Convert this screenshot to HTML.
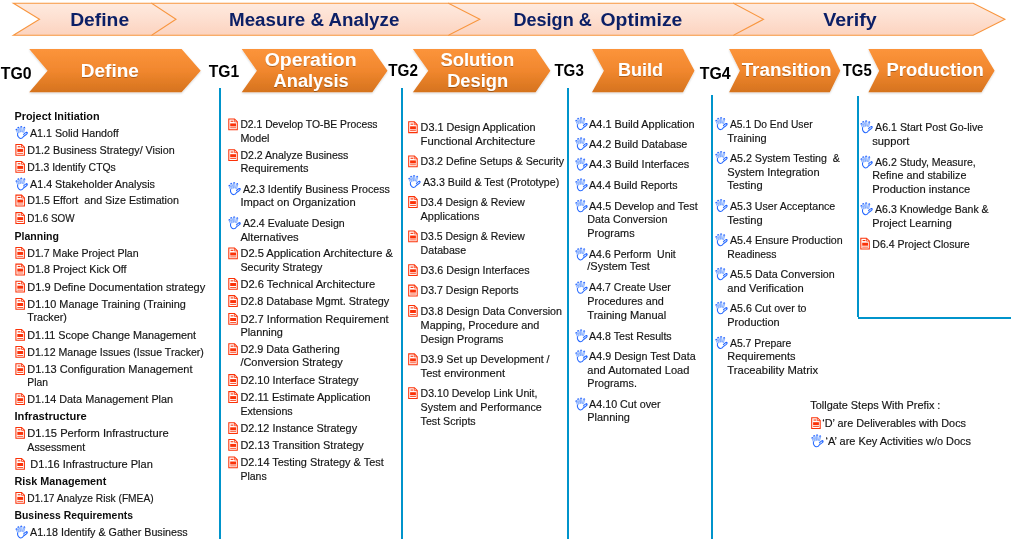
<!DOCTYPE html>
<html><head><meta charset="utf-8"><title>Tollgate process</title>
<style>
html,body{margin:0;padding:0;background:#fff;}
body{width:1011px;height:539px;overflow:hidden;font-family:"Liberation Sans",sans-serif;}
svg{display:block;font-family:"Liberation Sans",sans-serif;}
.t{font-size:10.5px;fill:#141414;stroke:#141414;stroke-width:0.16px;}
.b{font-size:10.5px;fill:#0c0c0c;font-weight:bold;}
.tg{font-size:16.3px;font-weight:bold;fill:#000;}
.hd{font-size:18.8px;font-weight:bold;fill:#0b1f66;text-anchor:middle;}
.ch{font-size:18.8px;font-weight:bold;fill:#fff;text-anchor:middle;}
</style></head><body>
<svg width="1011" height="539" viewBox="0 0 1011 539">
<defs>
<linearGradient id="gp" x1="0" y1="0" x2="0" y2="1"><stop offset="0" stop-color="#feeadf"/><stop offset="0.5" stop-color="#fddfd0"/><stop offset="1" stop-color="#fcd3bf"/></linearGradient>
<linearGradient id="go" x1="0" y1="0" x2="0" y2="1"><stop offset="0" stop-color="#fc943b"/><stop offset="0.5" stop-color="#f1872e"/><stop offset="1" stop-color="#d5731e"/></linearGradient>
<filter id="sh" x="-5%" y="-10%" width="110%" height="130%"><feGaussianBlur in="SourceAlpha" stdDeviation="1.1"/><feOffset dx="0" dy="0.6"/><feComponentTransfer><feFuncA type="linear" slope="0.18"/></feComponentTransfer><feMerge><feMergeNode/><feMergeNode in="SourceGraphic"/></feMerge></filter>
<filter id="ts" x="-5%" y="-20%" width="110%" height="150%"><feGaussianBlur in="SourceAlpha" stdDeviation="0.7"/><feOffset dx="0.4" dy="0.6"/><feComponentTransfer><feFuncA type="linear" slope="0.28"/></feComponentTransfer><feMerge><feMergeNode/><feMergeNode in="SourceGraphic"/></feMerge></filter>
<g id="doc"><path d="M0.5 0.5 H6.2 L9 3.3 V11.3 H0.5 Z" fill="#fff" stroke="#fb3208" stroke-width="1.05" stroke-linejoin="miter"/><path d="M6.1 0.7 V3.4 H8.8" fill="none" stroke="#fb3208" stroke-width="0.8"/><rect x="2.3" y="2.3" width="2.8" height="1.1" fill="#fb3208"/><rect x="1.9" y="5.0" width="5.8" height="3" fill="#fb3208"/><rect x="1.9" y="9" width="5.8" height="0.8" fill="#fb3208"/></g>
<g id="hand" fill="none" stroke-linecap="round" stroke-linejoin="round"><path d="M2.3 7.6 L0.7 4.0 M3.3 6.9 L1.7 3.3 M3.9 6.3 L2.4 1.9 M5.0 6.0 L3.6 1.6 M5.5 5.8 L5.2 1.0 M6.6 5.8 L6.5 1.0 M7.3 6.1 L8.4 1.8 M8.3 6.6 L9.5 2.3" stroke="#3b7cff" stroke-width="0.6"/><path d="M2.2 7.6 Q1.9 9.6 2.9 10.9 Q4.0 12.6 5.5 12.5 Q7.2 12.4 8.1 10.6 Q9.4 9.6 10.8 8.6 Q12.2 7.5 11.9 6.8 Q11.4 6.0 10.3 6.7 Q9.2 7.4 8.2 8.6" stroke="#2468ff" stroke-width="1.05"/><g fill="#1f5fff" stroke="none"><circle cx="1.0" cy="3.5" r="0.75"/><circle cx="2.9" cy="1.5" r="0.75"/><circle cx="5.85" cy="0.75" r="0.75"/><circle cx="9.0" cy="1.7" r="0.75"/><circle cx="11.3" cy="6.6" r="0.7"/></g></g>
</defs>
<g opacity="0.999">

<path d="M733.5 3.3 H973.2 L1004.9 19.299999999999997 L973.2 35.3 H733.5 Z" fill="url(#gp)" stroke="#f8963f" stroke-width="1.1" stroke-linejoin="miter"/>
<path d="M448.5 3.3 H733.5 L763.5 19.299999999999997 L733.5 35.3 H448.5 Z" fill="url(#gp)" stroke="#f8963f" stroke-width="1.1" stroke-linejoin="miter"/>
<path d="M151.7 3.3 H448.5 L479.8 19.299999999999997 L448.5 35.3 H151.7 Z" fill="url(#gp)" stroke="#f8963f" stroke-width="1.1" stroke-linejoin="miter"/>
<path d="M13.4 3.3 H151.7 L176 19.299999999999997 L151.7 35.3 H13.4 L39.5 19.299999999999997 Z" fill="url(#gp)" stroke="#f8963f" stroke-width="1.1" stroke-linejoin="miter"/>
<text class="hd" x="99.65" y="25.7" textLength="59.0" lengthAdjust="spacingAndGlyphs">Define</text>
<text class="hd" x="314.2" y="25.7" textLength="170.3" lengthAdjust="spacingAndGlyphs">Measure &amp; Analyze</text>
<text class="hd" x="552.6" y="25.7" textLength="78.3" lengthAdjust="spacingAndGlyphs">Design &amp;</text>
<text class="hd" x="641.45" y="25.7" textLength="81.8" lengthAdjust="spacingAndGlyphs">Optimize</text>
<text class="hd" x="849.9" y="25.7" textLength="53.5" lengthAdjust="spacingAndGlyphs">Verify</text>
<rect x="219" y="88" width="2" height="451" fill="#0094cb"/>
<rect x="401" y="88" width="2" height="451" fill="#0094cb"/>
<rect x="567" y="88" width="2" height="451" fill="#0094cb"/>
<rect x="711" y="95" width="2" height="444" fill="#0094cb"/>
<rect x="857" y="96" width="2" height="221" fill="#0094cb"/>
<rect x="858" y="317" width="153" height="2" fill="#0094cb"/>
<path d="M29.2 49.1 H181.6 L200.7 70.7 L181.6 92.3 H29.2 L47.6 70.7 Z" fill="url(#go)" filter="url(#sh)"/>
<text class="ch" x="109.8" y="76.7" textLength="58.1" lengthAdjust="spacingAndGlyphs" filter="url(#ts)">Define</text>
<path d="M241.7 49.1 H372.3 L387.5 70.7 L372.3 92.3 H241.7 L256.9 70.7 Z" fill="url(#go)" filter="url(#sh)"/>
<text class="ch" x="310.65" y="66.3" textLength="92.0" lengthAdjust="spacingAndGlyphs" filter="url(#ts)">Operation</text>
<text class="ch" x="311.1" y="87.4" textLength="75.1" lengthAdjust="spacingAndGlyphs" filter="url(#ts)">Analysis</text>
<path d="M412.9 49.1 H535.6 L550.4 70.7 L535.6 92.3 H412.9 L428.3 70.7 Z" fill="url(#go)" filter="url(#sh)"/>
<text class="ch" x="477.3" y="66.3" textLength="73.7" lengthAdjust="spacingAndGlyphs" filter="url(#ts)">Solution</text>
<text class="ch" x="477.7" y="87.4" textLength="61.1" lengthAdjust="spacingAndGlyphs" filter="url(#ts)">Design</text>
<path d="M592 49.1 H683 L694.5 70.7 L683 92.3 H592 L603.9 70.7 Z" fill="url(#go)" filter="url(#sh)"/>
<text class="ch" x="640.5" y="76.2" textLength="45.1" lengthAdjust="spacingAndGlyphs" filter="url(#ts)">Build</text>
<path d="M729.1 49.1 H829.8 L840.3 70.7 L829.8 92.3 H729.1 L739.9 70.7 Z" fill="url(#go)" filter="url(#sh)"/>
<text class="ch" x="786.6" y="76.3" textLength="89.9" lengthAdjust="spacingAndGlyphs" filter="url(#ts)">Transition</text>
<path d="M868.4 49.1 H981.5 L994.6 70.7 L981.5 92.3 H868.4 L879.2 70.7 Z" fill="url(#go)" filter="url(#sh)"/>
<text class="ch" x="935.15" y="76.2" textLength="97.4" lengthAdjust="spacingAndGlyphs" filter="url(#ts)">Production</text>
<text class="tg" x="0.8" y="79.1" textLength="30.8" lengthAdjust="spacingAndGlyphs">TG0</text>
<text class="tg" x="208.7" y="77.0" textLength="30.4" lengthAdjust="spacingAndGlyphs">TG1</text>
<text class="tg" x="388.3" y="75.8" textLength="29.7" lengthAdjust="spacingAndGlyphs">TG2</text>
<text class="tg" x="554.4" y="75.8" textLength="29.4" lengthAdjust="spacingAndGlyphs">TG3</text>
<text class="tg" x="699.8" y="79.1" textLength="30.9" lengthAdjust="spacingAndGlyphs">TG4</text>
<text class="tg" x="842.8" y="75.8" textLength="28.9" lengthAdjust="spacingAndGlyphs">TG5</text>
<text class="b" x="14.5" y="119.8" xml:space="preserve" textLength="85.1" lengthAdjust="spacingAndGlyphs">Project Initiation</text>
<use href="#hand" x="15.4" y="125.9"/>
<text class="t" x="30" y="136.5" xml:space="preserve" textLength="88.7" lengthAdjust="spacingAndGlyphs">A1.1 Solid Handoff</text>
<use href="#doc" x="15.4" y="143.9"/>
<text class="t" x="27.3" y="153.7" xml:space="preserve" textLength="147.4" lengthAdjust="spacingAndGlyphs">D1.2 Business Strategy/ Vision</text>
<use href="#doc" x="15.4" y="160.9"/>
<text class="t" x="27.3" y="170.7" xml:space="preserve" textLength="88.5" lengthAdjust="spacingAndGlyphs">D1.3 Identify CTQs</text>
<use href="#hand" x="15.4" y="177.4"/>
<text class="t" x="30" y="188.0" xml:space="preserve" textLength="124.9" lengthAdjust="spacingAndGlyphs">A1.4 Stakeholder Analysis</text>
<use href="#doc" x="15.4" y="194.6"/>
<text class="t" x="27.3" y="204.4" xml:space="preserve" textLength="151.6" lengthAdjust="spacingAndGlyphs">D1.5 Effort  and Size Estimation</text>
<use href="#doc" x="15.4" y="212.1"/>
<text class="t" x="27.3" y="221.9" xml:space="preserve" textLength="47.3" lengthAdjust="spacingAndGlyphs">D1.6 SOW</text>
<text class="b" x="14.5" y="239.8" xml:space="preserve" textLength="44.5" lengthAdjust="spacingAndGlyphs">Planning</text>
<use href="#doc" x="15.4" y="246.9"/>
<text class="t" x="27.3" y="256.7" xml:space="preserve" textLength="111.3" lengthAdjust="spacingAndGlyphs">D1.7 Make Project Plan</text>
<use href="#doc" x="15.4" y="263.6"/>
<text class="t" x="27.3" y="273.4" xml:space="preserve" textLength="99.3" lengthAdjust="spacingAndGlyphs">D1.8 Project Kick Off</text>
<use href="#doc" x="15.4" y="280.7"/>
<text class="t" x="27.3" y="290.5" xml:space="preserve" textLength="178" lengthAdjust="spacingAndGlyphs">D1.9 Define Documentation strategy</text>
<use href="#doc" x="15.4" y="298.0"/>
<text class="t" x="27.3" y="307.8" xml:space="preserve" textLength="158.6" lengthAdjust="spacingAndGlyphs">D1.10 Manage Training (Training</text>
<text class="t" x="27.3" y="321.0" xml:space="preserve" textLength="39.5" lengthAdjust="spacingAndGlyphs">Tracker)</text>
<use href="#doc" x="15.4" y="329.0"/>
<text class="t" x="27.3" y="338.8" xml:space="preserve" textLength="168.8" lengthAdjust="spacingAndGlyphs">D1.11 Scope Change Management</text>
<use href="#doc" x="15.4" y="346.0"/>
<text class="t" x="27.3" y="355.8" xml:space="preserve" textLength="176.6" lengthAdjust="spacingAndGlyphs">D1.12 Manage Issues (Issue Tracker)</text>
<use href="#doc" x="15.4" y="363.2"/>
<text class="t" x="27.3" y="373.0" xml:space="preserve" textLength="165.2" lengthAdjust="spacingAndGlyphs">D1.13 Configuration Management</text>
<text class="t" x="27.3" y="385.6" xml:space="preserve" textLength="20.6" lengthAdjust="spacingAndGlyphs">Plan</text>
<use href="#doc" x="15.4" y="393.2"/>
<text class="t" x="27.3" y="403.0" xml:space="preserve" textLength="145.8" lengthAdjust="spacingAndGlyphs">D1.14 Data Management Plan</text>
<text class="b" x="14.5" y="419.7" xml:space="preserve" textLength="72.3" lengthAdjust="spacingAndGlyphs">Infrastructure</text>
<use href="#doc" x="15.4" y="426.9"/>
<text class="t" x="27.3" y="436.7" xml:space="preserve" textLength="141.3" lengthAdjust="spacingAndGlyphs">D1.15 Perform Infrastructure</text>
<text class="t" x="27.3" y="451.1" xml:space="preserve" textLength="57.9" lengthAdjust="spacingAndGlyphs">Assessment</text>
<use href="#doc" x="15.4" y="458.0"/>
<text class="t" x="27.3" y="467.8" xml:space="preserve" textLength="125.5" lengthAdjust="spacingAndGlyphs"> D1.16 Infrastructure Plan</text>
<text class="b" x="14.5" y="484.5" xml:space="preserve" textLength="91.8" lengthAdjust="spacingAndGlyphs">Risk Management</text>
<use href="#doc" x="15.4" y="491.9"/>
<text class="t" x="27.3" y="501.7" xml:space="preserve" textLength="126.3" lengthAdjust="spacingAndGlyphs">D1.17 Analyze Risk (FMEA)</text>
<text class="b" x="14.5" y="518.7" xml:space="preserve" textLength="118.5" lengthAdjust="spacingAndGlyphs">Business Requirements</text>
<use href="#hand" x="15.4" y="525.4"/>
<text class="t" x="30" y="536.0" xml:space="preserve" textLength="157.7" lengthAdjust="spacingAndGlyphs">A1.18 Identify &amp; Gather Business</text>
<use href="#doc" x="228.3" y="118.4"/>
<text class="t" x="240.4" y="128.2" xml:space="preserve" textLength="137.1" lengthAdjust="spacingAndGlyphs">D2.1 Develop TO-BE Process</text>
<text class="t" x="240.4" y="141.5" xml:space="preserve" textLength="29.1" lengthAdjust="spacingAndGlyphs">Model</text>
<use href="#doc" x="228.3" y="149.2"/>
<text class="t" x="240.4" y="159.0" xml:space="preserve" textLength="108" lengthAdjust="spacingAndGlyphs">D2.2 Analyze Business</text>
<text class="t" x="240.4" y="172.0" xml:space="preserve" textLength="68.2" lengthAdjust="spacingAndGlyphs">Requirements</text>
<use href="#hand" x="228.3" y="182.1"/>
<text class="t" x="243" y="192.7" xml:space="preserve" textLength="146.8" lengthAdjust="spacingAndGlyphs">A2.3 Identify Business Process</text>
<text class="t" x="240.4" y="205.7" xml:space="preserve" textLength="115.4" lengthAdjust="spacingAndGlyphs">Impact on Organization</text>
<use href="#hand" x="228.3" y="216.3"/>
<text class="t" x="243" y="226.9" xml:space="preserve" textLength="101.7" lengthAdjust="spacingAndGlyphs">A2.4 Evaluate Design</text>
<text class="t" x="240.4" y="240.6" xml:space="preserve" textLength="58.3" lengthAdjust="spacingAndGlyphs">Alternatives</text>
<use href="#doc" x="228.3" y="247.5"/>
<text class="t" x="240.4" y="257.3" xml:space="preserve" textLength="152.5" lengthAdjust="spacingAndGlyphs">D2.5 Application Architecture &amp;</text>
<text class="t" x="240.4" y="271.0" xml:space="preserve" textLength="82" lengthAdjust="spacingAndGlyphs">Security Strategy</text>
<use href="#doc" x="228.3" y="278.0"/>
<text class="t" x="240.4" y="287.8" xml:space="preserve" textLength="134.7" lengthAdjust="spacingAndGlyphs">D2.6 Technical Architecture</text>
<use href="#doc" x="228.3" y="295.1"/>
<text class="t" x="240.4" y="304.9" xml:space="preserve" textLength="148.8" lengthAdjust="spacingAndGlyphs">D2.8 Database Mgmt. Strategy</text>
<use href="#doc" x="228.3" y="313.0"/>
<text class="t" x="240.4" y="322.8" xml:space="preserve" textLength="148.3" lengthAdjust="spacingAndGlyphs">D2.7 Information Requirement</text>
<text class="t" x="240.4" y="336.0" xml:space="preserve" textLength="42.5" lengthAdjust="spacingAndGlyphs">Planning</text>
<use href="#doc" x="228.3" y="343.3"/>
<text class="t" x="240.4" y="353.1" xml:space="preserve" textLength="99.3" lengthAdjust="spacingAndGlyphs">D2.9 Data Gathering</text>
<text class="t" x="240.4" y="366.4" xml:space="preserve" textLength="102.4" lengthAdjust="spacingAndGlyphs">/Conversion Strategy</text>
<use href="#doc" x="228.3" y="374.1"/>
<text class="t" x="240.4" y="383.9" xml:space="preserve" textLength="118.2" lengthAdjust="spacingAndGlyphs">D2.10 Interface Strategy</text>
<use href="#doc" x="228.3" y="391.1"/>
<text class="t" x="240.4" y="400.9" xml:space="preserve" textLength="130.3" lengthAdjust="spacingAndGlyphs">D2.11 Estimate Application</text>
<text class="t" x="240.4" y="414.6" xml:space="preserve" textLength="52.3" lengthAdjust="spacingAndGlyphs">Extensions</text>
<use href="#doc" x="228.3" y="422.3"/>
<text class="t" x="240.4" y="432.1" xml:space="preserve" textLength="116.7" lengthAdjust="spacingAndGlyphs">D2.12 Instance Strategy</text>
<use href="#doc" x="228.3" y="438.9"/>
<text class="t" x="240.4" y="448.7" xml:space="preserve" textLength="123.4" lengthAdjust="spacingAndGlyphs">D2.13 Transition Strategy</text>
<use href="#doc" x="228.3" y="456.5"/>
<text class="t" x="240.4" y="466.3" xml:space="preserve" textLength="143.3" lengthAdjust="spacingAndGlyphs">D2.14 Testing Strategy &amp; Test</text>
<text class="t" x="240.4" y="479.9" xml:space="preserve" textLength="26.3" lengthAdjust="spacingAndGlyphs">Plans</text>
<use href="#doc" x="408.2" y="121.3"/>
<text class="t" x="420.6" y="131.1" xml:space="preserve" textLength="115" lengthAdjust="spacingAndGlyphs">D3.1 Design Application</text>
<text class="t" x="420.6" y="144.8" xml:space="preserve" textLength="114.7" lengthAdjust="spacingAndGlyphs">Functional Architecture</text>
<use href="#doc" x="408.2" y="155.4"/>
<text class="t" x="420.6" y="165.2" xml:space="preserve" textLength="143.4" lengthAdjust="spacingAndGlyphs">D3.2 Define Setups &amp; Security</text>
<use href="#hand" x="408.2" y="174.9"/>
<text class="t" x="423" y="185.5" xml:space="preserve" textLength="136.2" lengthAdjust="spacingAndGlyphs">A3.3 Build &amp; Test (Prototype)</text>
<use href="#doc" x="408.2" y="196.1"/>
<text class="t" x="420.6" y="205.9" xml:space="preserve" textLength="104.3" lengthAdjust="spacingAndGlyphs">D3.4 Design &amp; Review</text>
<text class="t" x="420.6" y="219.9" xml:space="preserve" textLength="58.8" lengthAdjust="spacingAndGlyphs">Applications</text>
<use href="#doc" x="408.2" y="230.5"/>
<text class="t" x="420.6" y="240.3" xml:space="preserve" textLength="104.3" lengthAdjust="spacingAndGlyphs">D3.5 Design &amp; Review</text>
<text class="t" x="420.6" y="254.0" xml:space="preserve" textLength="45.5" lengthAdjust="spacingAndGlyphs">Database</text>
<use href="#doc" x="408.2" y="264.3"/>
<text class="t" x="420.6" y="274.1" xml:space="preserve" textLength="109.1" lengthAdjust="spacingAndGlyphs">D3.6 Design Interfaces</text>
<use href="#doc" x="408.2" y="284.6"/>
<text class="t" x="420.6" y="294.4" xml:space="preserve" textLength="98" lengthAdjust="spacingAndGlyphs">D3.7 Design Reports</text>
<use href="#doc" x="408.2" y="305.0"/>
<text class="t" x="420.6" y="314.8" xml:space="preserve" textLength="141.4" lengthAdjust="spacingAndGlyphs">D3.8 Design Data Conversion</text>
<text class="t" x="420.6" y="328.8" xml:space="preserve" textLength="118.8" lengthAdjust="spacingAndGlyphs">Mapping, Procedure and</text>
<text class="t" x="420.6" y="342.9" xml:space="preserve" textLength="82.9" lengthAdjust="spacingAndGlyphs">Design Programs</text>
<use href="#doc" x="408.2" y="353.4"/>
<text class="t" x="420.6" y="363.2" xml:space="preserve" textLength="129" lengthAdjust="spacingAndGlyphs">D3.9 Set up Development /</text>
<text class="t" x="420.6" y="376.9" xml:space="preserve" textLength="84.4" lengthAdjust="spacingAndGlyphs">Test environment</text>
<use href="#doc" x="408.2" y="387.2"/>
<text class="t" x="420.6" y="397.0" xml:space="preserve" textLength="116.9" lengthAdjust="spacingAndGlyphs">D3.10 Develop Link Unit,</text>
<text class="t" x="420.6" y="411.0" xml:space="preserve" textLength="121.2" lengthAdjust="spacingAndGlyphs">System and Performance</text>
<text class="t" x="420.6" y="424.7" xml:space="preserve" textLength="55.1" lengthAdjust="spacingAndGlyphs">Test Scripts</text>
<use href="#hand" x="575.2" y="117.1"/>
<text class="t" x="589.1" y="127.7" xml:space="preserve" textLength="105.6" lengthAdjust="spacingAndGlyphs">A4.1 Build Application</text>
<use href="#hand" x="575.2" y="137.2"/>
<text class="t" x="589.1" y="147.8" xml:space="preserve" textLength="98.2" lengthAdjust="spacingAndGlyphs">A4.2 Build Database</text>
<use href="#hand" x="575.2" y="157.6"/>
<text class="t" x="589.1" y="168.2" xml:space="preserve" textLength="100.2" lengthAdjust="spacingAndGlyphs">A4.3 Build Interfaces</text>
<use href="#hand" x="575.2" y="178.3"/>
<text class="t" x="589.1" y="188.9" xml:space="preserve" textLength="88.5" lengthAdjust="spacingAndGlyphs">A4.4 Build Reports</text>
<use href="#hand" x="575.2" y="199.3"/>
<text class="t" x="589.1" y="209.9" xml:space="preserve" textLength="108.6" lengthAdjust="spacingAndGlyphs">A4.5 Develop and Test</text>
<text class="t" x="587.3" y="223.3" xml:space="preserve" textLength="80.2" lengthAdjust="spacingAndGlyphs">Data Conversion</text>
<text class="t" x="587.3" y="237.0" xml:space="preserve" textLength="47.3" lengthAdjust="spacingAndGlyphs">Programs</text>
<use href="#hand" x="575.2" y="247.4"/>
<text class="t" x="589.1" y="258.0" xml:space="preserve" textLength="86.7" lengthAdjust="spacingAndGlyphs">A4.6 Perform  Unit</text>
<text class="t" x="587.3" y="270.4" xml:space="preserve" textLength="62.6" lengthAdjust="spacingAndGlyphs">/System Test</text>
<use href="#hand" x="575.2" y="280.8"/>
<text class="t" x="589.1" y="291.4" xml:space="preserve" textLength="81.7" lengthAdjust="spacingAndGlyphs">A4.7 Create User</text>
<text class="t" x="587.3" y="304.7" xml:space="preserve" textLength="76.5" lengthAdjust="spacingAndGlyphs">Procedures and</text>
<text class="t" x="587.3" y="318.5" xml:space="preserve" textLength="78.9" lengthAdjust="spacingAndGlyphs">Training Manual</text>
<use href="#hand" x="575.2" y="329.2"/>
<text class="t" x="589.1" y="339.8" xml:space="preserve" textLength="82.6" lengthAdjust="spacingAndGlyphs">A4.8 Test Results</text>
<use href="#hand" x="575.2" y="349.6"/>
<text class="t" x="589.1" y="360.2" xml:space="preserve" textLength="106.6" lengthAdjust="spacingAndGlyphs">A4.9 Design Test Data</text>
<text class="t" x="587.3" y="373.6" xml:space="preserve" textLength="102.1" lengthAdjust="spacingAndGlyphs">and Automated Load</text>
<text class="t" x="587.3" y="387.3" xml:space="preserve" textLength="49.6" lengthAdjust="spacingAndGlyphs">Programs.</text>
<use href="#hand" x="575.2" y="397.4"/>
<text class="t" x="589.1" y="408.0" xml:space="preserve" textLength="71.5" lengthAdjust="spacingAndGlyphs">A4.10 Cut over</text>
<text class="t" x="587.3" y="421.3" xml:space="preserve" textLength="42.5" lengthAdjust="spacingAndGlyphs">Planning</text>
<use href="#hand" x="715.2" y="117.1"/>
<text class="t" x="730" y="127.7" xml:space="preserve" textLength="82.6" lengthAdjust="spacingAndGlyphs">A5.1 Do End User</text>
<text class="t" x="727.3" y="142.1" xml:space="preserve" textLength="39.4" lengthAdjust="spacingAndGlyphs">Training</text>
<use href="#hand" x="715.2" y="150.9"/>
<text class="t" x="730" y="161.5" xml:space="preserve" textLength="109.9" lengthAdjust="spacingAndGlyphs">A5.2 System Testing  &amp;</text>
<text class="t" x="727.3" y="175.9" xml:space="preserve" textLength="92.3" lengthAdjust="spacingAndGlyphs">System Integration</text>
<text class="t" x="727.3" y="188.9" xml:space="preserve" textLength="35.3" lengthAdjust="spacingAndGlyphs">Testing</text>
<use href="#hand" x="715.2" y="199.0"/>
<text class="t" x="730" y="209.6" xml:space="preserve" textLength="105.3" lengthAdjust="spacingAndGlyphs">A5.3 User Acceptance</text>
<text class="t" x="727.3" y="224.0" xml:space="preserve" textLength="35.3" lengthAdjust="spacingAndGlyphs">Testing</text>
<use href="#hand" x="715.2" y="233.2"/>
<text class="t" x="730" y="243.8" xml:space="preserve" textLength="112.7" lengthAdjust="spacingAndGlyphs">A5.4 Ensure Production</text>
<text class="t" x="727.3" y="257.9" xml:space="preserve" textLength="49.2" lengthAdjust="spacingAndGlyphs">Readiness</text>
<use href="#hand" x="715.2" y="267.2"/>
<text class="t" x="730" y="277.8" xml:space="preserve" textLength="104.7" lengthAdjust="spacingAndGlyphs">A5.5 Data Conversion</text>
<text class="t" x="727.3" y="291.8" xml:space="preserve" textLength="76.5" lengthAdjust="spacingAndGlyphs">and Verification</text>
<use href="#hand" x="715.2" y="301.3"/>
<text class="t" x="730" y="311.9" xml:space="preserve" textLength="76.5" lengthAdjust="spacingAndGlyphs">A5.6 Cut over to</text>
<text class="t" x="727.3" y="325.6" xml:space="preserve" textLength="52.3" lengthAdjust="spacingAndGlyphs">Production</text>
<use href="#hand" x="715.2" y="336.0"/>
<text class="t" x="730" y="346.6" xml:space="preserve" textLength="61.3" lengthAdjust="spacingAndGlyphs">A5.7 Prepare</text>
<text class="t" x="727.3" y="360.0" xml:space="preserve" textLength="68.2" lengthAdjust="spacingAndGlyphs">Requirements</text>
<text class="t" x="727.3" y="374.0" xml:space="preserve" textLength="90.8" lengthAdjust="spacingAndGlyphs">Traceability Matrix</text>
<use href="#hand" x="860.3" y="120.2"/>
<text class="t" x="875.1" y="130.8" xml:space="preserve" textLength="108" lengthAdjust="spacingAndGlyphs">A6.1 Start Post Go-live</text>
<text class="t" x="872.3" y="144.6" xml:space="preserve" textLength="37.1" lengthAdjust="spacingAndGlyphs">support</text>
<use href="#hand" x="860.3" y="155.4"/>
<text class="t" x="875.1" y="166.0" xml:space="preserve" textLength="100.6" lengthAdjust="spacingAndGlyphs">A6.2 Study, Measure,</text>
<text class="t" x="872.3" y="179.4" xml:space="preserve" textLength="94.1" lengthAdjust="spacingAndGlyphs">Refine and stabilize</text>
<text class="t" x="872.3" y="192.7" xml:space="preserve" textLength="98" lengthAdjust="spacingAndGlyphs">Production instance</text>
<use href="#hand" x="860.3" y="202.2"/>
<text class="t" x="875.1" y="212.8" xml:space="preserve" textLength="113.5" lengthAdjust="spacingAndGlyphs">A6.3 Knowledge Bank &amp;</text>
<text class="t" x="872.3" y="227.0" xml:space="preserve" textLength="79.4" lengthAdjust="spacingAndGlyphs">Project Learning</text>
<use href="#doc" x="860.3" y="237.7"/>
<text class="t" x="872.3" y="247.5" xml:space="preserve" textLength="97.4" lengthAdjust="spacingAndGlyphs">D6.4 Project Closure</text>
<text class="t" x="810.3" y="408.8" xml:space="preserve" textLength="130.1" lengthAdjust="spacingAndGlyphs">Tollgate Steps With Prefix :</text>
<use href="#doc" x="811.2" y="417.2"/>
<text class="t" x="822.3" y="427.0" xml:space="preserve" textLength="143.7" lengthAdjust="spacingAndGlyphs">‘D’ are Deliverables with Docs</text>
<use href="#hand" x="811.2" y="434.3"/>
<text class="t" x="825.6" y="444.9" xml:space="preserve" textLength="145.4" lengthAdjust="spacingAndGlyphs">‘A’ are Key Activities w/o Docs</text>
</g>
</svg></body></html>
